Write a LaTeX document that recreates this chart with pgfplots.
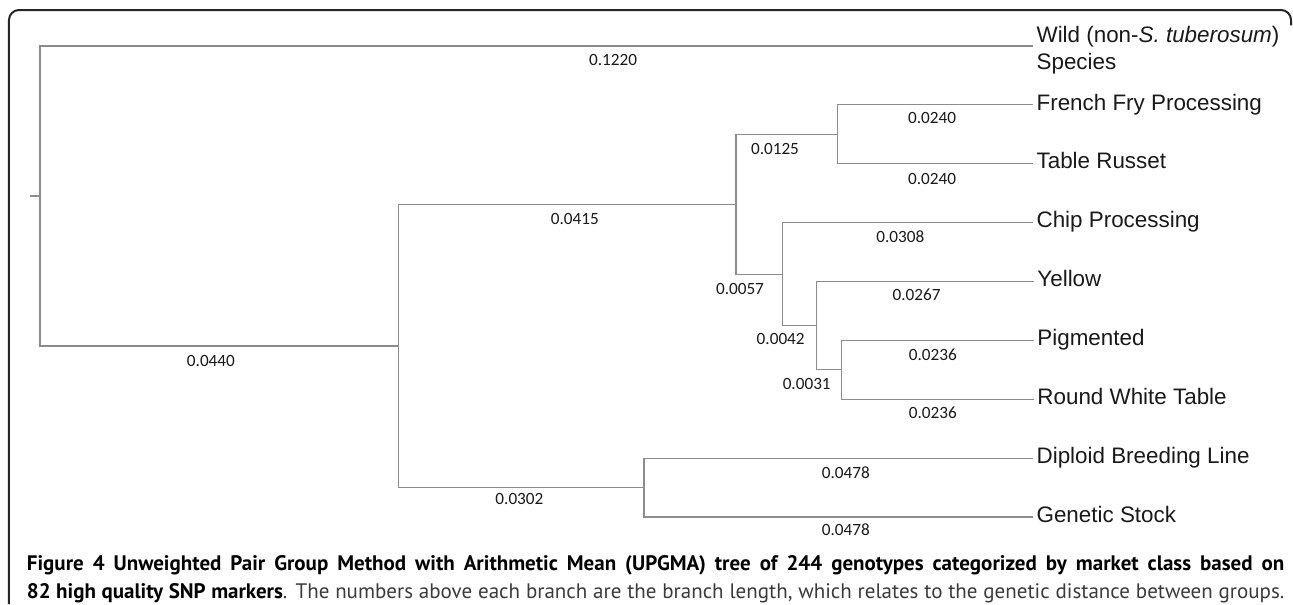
\documentclass[border=0pt]{standalone}
\usepackage{pgfplots}
\pgfplotsset{compat=1.18}
\usepackage{fontspec}
\setmainfont{Liberation Sans}
\newfontfamily\numfont{Carlito}
\newfontfamily\capfont{PT Sans}
\definecolor{branch}{HTML}{8C8C8C}
\definecolor{captxt}{HTML}{3A3A3A}
\tikzset{
  num/.style={font=\numfont\fontsize{8.6bp}{10bp}\selectfont, inner sep=0pt, text=black!90},
  leaf/.style={anchor=base west, inner sep=0pt, xshift=1.6bp, yshift=-2.6bp,
     font=\fontsize{11.2bp}{13bp}\selectfont, text=black!90},
}
\pgfplotsset{br/.style={no markers, solid, line width=0.6bp, color=branch, line join=miter}}
\begin{document}
\begin{tikzpicture}
\begin{axis}[
  width=646.5bp, height=302bp, scale only axis,
  xmin=-0.004914, xmax=0.153943, ymin=-0.7813, ymax=9.4777,
  y dir=reverse, hide axis, clip=false,
]
% root stub
\addplot[br] coordinates {(-0.00123,2.547) (0,2.547)};
% root: Wild and node F
\addplot[br] coordinates {(0.1220,0) (0,0) (0,5.09375) (0.0440,5.09375)};
% node F: node A and node E
\addplot[br] coordinates {(0.0855,2.6875) (0.0440,2.6875) (0.0440,7.5) (0.0742,7.5)};
% node A: FF node and node B
\addplot[br] coordinates {(0.0980,1.5) (0.0855,1.5) (0.0855,3.875) (0.0912,3.875)};
% FF node: French Fry Processing, Table Russet
\addplot[br] coordinates {(0.1220,1) (0.0980,1) (0.0980,2) (0.1220,2)};
% node B: Chip Processing and node C
\addplot[br] coordinates {(0.1220,3) (0.0912,3) (0.0912,4.75) (0.0954,4.75)};
% node C: Yellow and node D
\addplot[br] coordinates {(0.1221,4) (0.0954,4) (0.0954,5.5) (0.0985,5.5)};
% node D: Pigmented, Round White Table
\addplot[br] coordinates {(0.1221,5) (0.0985,5) (0.0985,6) (0.1221,6)};
% node E: Diploid Breeding Line, Genetic Stock
\addplot[br] coordinates {(0.1220,7) (0.0742,7) (0.0742,8) (0.1220,8)};

% branch lengths
\node[num] at (axis cs:0.0704,0.238) {0.1220};
\node[num] at (axis cs:0.1096,1.223) {0.0240};
\node[num] at (axis cs:0.1096,2.259) {0.0240};
\node[num] at (axis cs:0.0903,1.749) {0.0125};
\node[num] at (axis cs:0.0657,2.938) {0.0415};
\node[num] at (axis cs:0.1057,3.244) {0.0308};
\node[num] at (axis cs:0.0860,4.127) {0.0057};
\node[num] at (axis cs:0.1077,4.229) {0.0267};
\node[num] at (axis cs:0.0910,4.977) {0.0042};
\node[num] at (axis cs:0.1097,5.248) {0.0236};
\node[num] at (axis cs:0.0942,5.741) {0.0031};
\node[num] at (axis cs:0.1097,6.234) {0.0236};
\node[num] at (axis cs:0.0210,5.350) {0.0440};
\node[num] at (axis cs:0.0589,7.700) {0.0302};
\node[num] at (axis cs:0.0990,7.253) {0.0478};
\node[num] at (axis cs:0.0990,8.221) {0.0478};

% leaf labels
\node[leaf, yshift=4.25bp] at (axis cs:0.1220,0) {Wild (non-\textit{S. tuberosum})};
\node[leaf, yshift=-8.9bp] at (axis cs:0.1220,0) {Species};
\node[leaf] at (axis cs:0.1220,1) {French Fry Processing};
\node[leaf] at (axis cs:0.1220,2) {Table Russet};
\node[leaf] at (axis cs:0.1220,3) {Chip Processing};
\node[leaf] at (axis cs:0.1221,4) {Yellow};
\node[leaf] at (axis cs:0.1221,5) {Pigmented};
\node[leaf] at (axis cs:0.1221,6) {Round White Table};
\node[leaf] at (axis cs:0.1220,7) {Diploid Breeding Line};
\node[leaf] at (axis cs:0.1220,8) {Genetic Stock};

% frame
\draw[line width=1bp, black!85, rounded corners=5bp]
  (axis cs:-0.003809,9.4777) -- (axis cs:-0.003809,-0.6115)
  -- (axis cs:0.153698,-0.6115) -- (axis cs:0.153698,-0.35);

% caption
\node[anchor=base west, inner sep=0pt, font=\capfont\fontsize{10.5bp}{13.6bp}\selectfont]
  at (axis cs:-0.00166,8.912)
  {\makebox[628.75bp][s]{\textbf{Figure 4 Unweighted Pair Group Method with Arithmetic Mean (UPGMA) tree of 244 genotypes categorized by market class based on}}};
\node[anchor=base west, inner sep=0pt, font=\capfont\fontsize{10.5bp}{13.6bp}\selectfont, text=captxt]
  at (axis cs:-0.00166,9.376)
  {\makebox[628.75bp][s]{\textcolor{black}{\textbf{82 high quality SNP markers}}. The numbers above each branch are the branch length, which relates to the genetic distance between groups.}};
\end{axis}
\pgfresetboundingbox
\useasboundingbox (current axis.south west) rectangle (current axis.north east);
\end{tikzpicture}
\end{document}
